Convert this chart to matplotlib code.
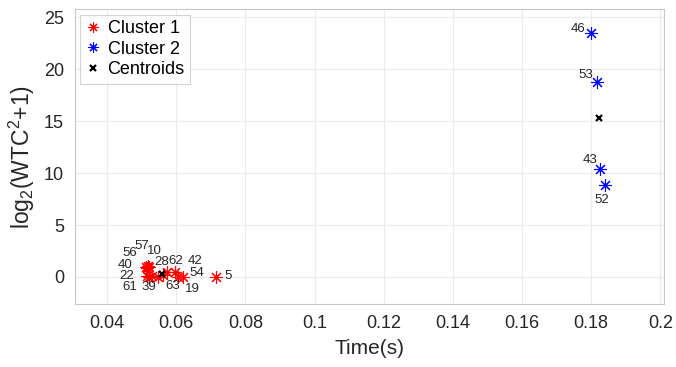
import matplotlib
matplotlib.use("Agg")
import matplotlib.pyplot as plt
import numpy as np

plt.rcParams['font.family'] = ['Liberation Sans', 'DejaVu Sans']
plt.rcParams['mathtext.default'] = 'regular'

# Cluster 1 points (Time, log2(WTC^2+1)) and labels
c1_labels = ['5', '54', '19', '42', '62', '28', '63', '10', '57', '56', '40', '22', '61', '39']
c1_x = [0.0714, 0.0620, 0.0605, 0.0562, 0.0596, 0.0572, 0.0548, 0.0522, 0.0517, 0.0512, 0.0514, 0.0515, 0.0520, 0.0530]
c1_y = [0.0, 0.0, 0.0, 0.15, 0.47, 0.47, 0.0, 1.0, 1.05, 1.0, 0.9, 0.1, 0.0, 0.1]

# Cluster 2
c2_labels = ['46', '53', '43', '52']
c2_x = [0.1800, 0.1816, 0.1825, 0.1841]
c2_y = [23.5, 18.8, 10.4, 8.85]

# Centroids
cent_x = [0.0559, 0.1822]
cent_y = [0.27, 15.35]

# label offsets in pixels (dx, dy)
c1_off = [(12.7, 1.2), (13.3, 3.8), (14.5, -11.8), (31.6, 14.6), (0.6, 11.3), (-5.1, 9.9),
          (14.8, -9.5), (5.5, 15.8), (-5.6, 19.6), (-16.6, 13.4), (-21.7, 2.9), (-19.8, 0.2),
          (-18.8, -10.2), (-3.3, -11.2)]
c2_off = [(-13.4, 3.7), (-11.2, 7.0), (-10.3, 9.0), (-3.5, -14.5)]

xticks = [0.04, 0.06, 0.08, 0.1, 0.12, 0.14, 0.16, 0.18, 0.2]
xticklabels = ['0.04', '0.06', '0.08', '0.1', '0.12', '0.14', '0.16', '0.18', '0.2']
yticks = [0, 5, 10, 15, 20, 25]

fig = plt.figure(figsize=(6.76, 3.67), dpi=100)
ax = fig.add_axes([0.111, 0.172, 0.871, 0.803])

ast = (8, 2, 0)
ax.plot(c1_x, c1_y, linestyle='none', marker=ast, color='#ff0000', markersize=9,
        markeredgewidth=0.8, label='Cluster 1', zorder=3)
ax.plot(c2_x, c2_y, linestyle='none', marker=ast, color='#0000ff', markersize=9,
        markeredgewidth=0.8, label='Cluster 2', zorder=3)
ax.plot(cent_x, cent_y, linestyle='none', marker='x', color='black', markersize=5,
        markeredgewidth=1.6, label='Centroids', zorder=4)

for lab, x, y, (dx, dy) in zip(c1_labels, c1_x, c1_y, c1_off):
    ax.annotate(lab, (x, y), xytext=(dx, dy), textcoords='offset pixels',
                ha='center', va='center', fontsize=9.5, color='#262626')
for lab, x, y, (dx, dy) in zip(c2_labels, c2_x, c2_y, c2_off):
    ax.annotate(lab, (x, y), xytext=(dx, dy), textcoords='offset pixels',
                ha='center', va='center', fontsize=9.5, color='#262626')

ax.set_xlim(0.0307, 0.201)
ax.set_ylim(-2.6, 25.8)
ax.set_xticks(xticks)
ax.set_xticklabels(xticklabels)
ax.set_yticks(yticks)
ax.tick_params(axis='both', labelsize=13, colors='#262626', length=0, pad=8)
ax.grid(True, color='#ebebeb', linewidth=0.8)
ax.set_axisbelow(True)
for s in ax.spines.values():
    s.set_color('#c8c8c8')
    s.set_linewidth(0.8)

ax.set_xlabel('Time(s)', fontsize=15, color='#262626', labelpad=5)
ax.set_ylabel(r'log$_2$(WTC$^2$+1)', fontsize=16.5, color='#262626', labelpad=5)

leg = ax.legend(loc='upper left', fontsize=13, frameon=True, fancybox=False,
                borderaxespad=0.3, handlelength=0.8, handletextpad=0.4,
                labelspacing=0.2, borderpad=0.3, markerscale=0.8)
leg.get_frame().set_edgecolor('#c8c8c8')
leg.get_frame().set_linewidth(0.8)
for t in leg.get_texts():
    t.set_color('black')

fig.savefig('out.png', dpi=100)
